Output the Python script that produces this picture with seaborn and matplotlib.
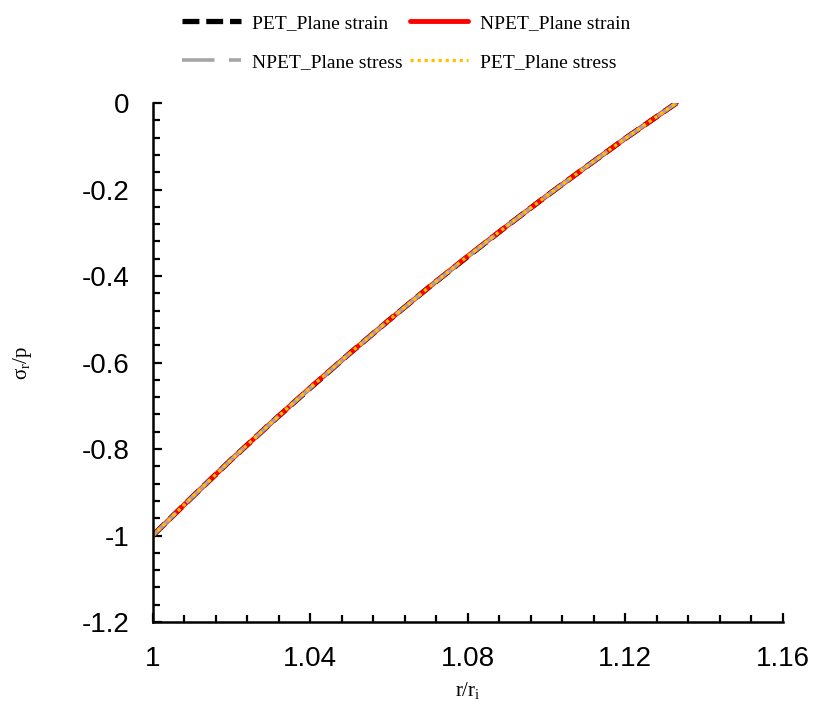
import matplotlib
matplotlib.use("Agg")
import matplotlib.pyplot as plt
import seaborn as sns
import pandas as pd
from matplotlib.ticker import MultipleLocator, FixedLocator

# ---- data ----
r_ratio = [1.000, 1.010, 1.020, 1.030, 1.040, 1.050, 1.060, 1.070,
           1.080, 1.090, 1.100, 1.110, 1.120, 1.130, 1.133]
pet_plane_strain = [-1.000, -0.911, -0.824, -0.740, -0.659, -0.579, -0.502, -0.427,
                    -0.355, -0.284, -0.215, -0.148, -0.082, -0.019, 0.000]
npet_plane_strain = [-1.000, -0.911, -0.824, -0.740, -0.658, -0.579, -0.502, -0.427,
                     -0.354, -0.284, -0.215, -0.148, -0.082, -0.019, 0.000]
npet_plane_stress = [-1.000, -0.911, -0.824, -0.740, -0.659, -0.579, -0.502, -0.427,
                     -0.355, -0.284, -0.215, -0.148, -0.082, -0.019, 0.000]
pet_plane_stress = [-1.000, -0.911, -0.824, -0.740, -0.658, -0.579, -0.502, -0.427,
                    -0.354, -0.284, -0.215, -0.148, -0.082, -0.019, 0.000]

series_names = ["PET_Plane strain", "NPET_Plane strain", "NPET_Plane stress", "PET_Plane stress"]
x_ticks = [1.00, 1.04, 1.08, 1.12, 1.16]
x_tick_labels = ["1", "1.04", "1.08", "1.12", "1.16"]
y_ticks = [-1.2, -1.0, -0.8, -0.6, -0.4, -0.2, 0.0]
y_tick_labels = ["-1.2", "-1", "-0.8", "-0.6", "-0.4", "-0.2", "0"]

sns.set_style("white")
plt.rcParams["axes.unicode_minus"] = False
plt.rcParams["text.color"] = "black"
plt.rcParams["axes.labelcolor"] = "black"
plt.rcParams["xtick.color"] = "black"
plt.rcParams["ytick.color"] = "black"
plt.rcParams["mathtext.fontset"] = "custom"
plt.rcParams["mathtext.rm"] = "Liberation Serif"
plt.rcParams["mathtext.it"] = "Liberation Serif:italic"

fig = plt.figure(figsize=(8.17, 7.05), dpi=100)
ax = fig.add_axes([0.187, 0.1177, 0.771, 0.7362])

styles = [
    dict(color="black", linewidth=3.8, linestyle=(0, (3.2, 1.3)), dash_capstyle="butt"),
    dict(color="#FF0000", linewidth=3.5, linestyle="-"),
    dict(color="#A5A5A5", linewidth=2.6, linestyle=(0, (9, 4))),
    dict(color="#FFC000", linewidth=2.3, linestyle=(0, (1, 1.2))),
]
all_series = [pet_plane_strain, npet_plane_strain, npet_plane_stress, pet_plane_stress]
handles = []
for name, vals, st in zip(series_names, all_series, styles):
    df = pd.DataFrame({"r": r_ratio, "s": vals})
    sns.lineplot(data=df, x="r", y="s", ax=ax, estimator=None, sort=False,
                 label=name, legend=False, **st)
    handles.append(ax.lines[-1])

ax.set_xlim(1.0, 1.16)
ax.set_ylim(-1.2, 0.0)
ax.xaxis.set_major_locator(FixedLocator(x_ticks))
ax.set_xticklabels(x_tick_labels)
ax.yaxis.set_major_locator(FixedLocator(y_ticks))
ax.set_yticklabels(y_tick_labels)
ax.xaxis.set_minor_locator(MultipleLocator(0.008))
ax.yaxis.set_minor_locator(MultipleLocator(0.04))

for s in ["top", "right"]:
    ax.spines[s].set_visible(False)
for s in ["left", "bottom"]:
    ax.spines[s].set_linewidth(1.8)
    ax.spines[s].set_color("black")

ax.tick_params(which="major", direction="in", length=6.5, width=1.6, color="black",
               pad=17, labelsize=20, labelcolor="black", left=True, bottom=True)
ax.tick_params(which="minor", direction="in", length=5, width=1.6, color="black",
               left=True, bottom=True)
for lab in ax.get_xticklabels() + ax.get_yticklabels():
    lab.set_fontfamily("Liberation Sans")

ax.set_xlabel(r"$\mathrm{r/r_i}$", fontsize=15, labelpad=6, color="black")
ax.set_ylabel(r"$\mathrm{\sigma_r/p}$", fontsize=15, labelpad=34, color="black")

order = [0, 2, 1, 3]
leg = fig.legend([handles[i] for i in order], [series_names[i] for i in order],
                 loc="center", bbox_to_anchor=(0.497, 0.9397), ncol=2, frameon=False,
                 prop={"family": "Liberation Serif", "size": 14},
                 handlelength=3.0, handletextpad=0.6, columnspacing=0.35,
                 labelspacing=1.1, borderpad=0.2)

fig.savefig("out.png", dpi=100)
